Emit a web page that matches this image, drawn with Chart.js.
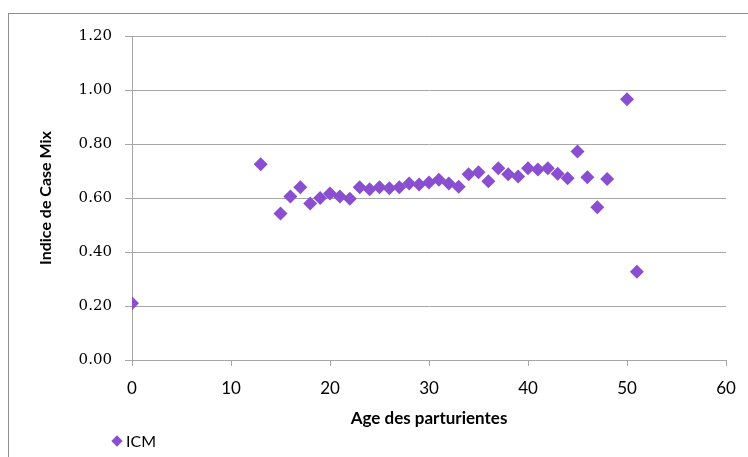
<!DOCTYPE html>
<html>
<head>
<meta charset="utf-8">
<script src="https://cdn.jsdelivr.net/npm/chart.js@4.4.0/dist/chart.umd.min.js"></script>
<style>
  html, body { margin: 0; padding: 0; background: #fff; overflow: hidden; }
  #wrap { position: relative; width: 748px; height: 457px; }
  #frame { position: absolute; left: 8px; top: 13px; width: 800px; height: 500px; border: 1px solid #8e8e8e; pointer-events: none; }
  #chart { position: absolute; left: 0; top: 0; }
  #legend { position: absolute; left: 112px; top: 431px; font-family: Lato, sans-serif; font-size: 16px; color: #000; display: flex; align-items: center; }
  #legend .mark { width: 8px; height: 8px; background: #8a4fd1; transform: rotate(45deg); margin-right: 5px; margin-left: 1px; }
</style>
</head>
<body>
<div id="wrap">
  <canvas id="chart" width="748" height="457"></canvas>
  <div id="frame"></div>
  <div id="legend"></div>
</div>
<script>
const SERIES_NAME = "ICM";
const ages = [0, 13, 15, 16, 17, 18, 19, 20, 21, 22, 23, 24, 25, 26, 27, 28, 29, 30, 31, 32, 33, 34, 35, 36, 37, 38, 39, 40, 41, 42, 43, 44, 45, 46, 47, 48, 50, 51];
const icmValues = [0.21, 0.725, 0.543, 0.606, 0.64, 0.58, 0.60, 0.617, 0.606, 0.597, 0.64, 0.632, 0.64, 0.636, 0.64, 0.654, 0.65, 0.657, 0.668, 0.654, 0.642, 0.688, 0.695, 0.662, 0.71, 0.688, 0.68, 0.71, 0.706, 0.71, 0.69, 0.673, 0.772, 0.677, 0.566, 0.67, 0.966, 0.327];

const X_TITLE = "Age des parturientes";
const Y_TITLE = "Indice de Case Mix";

const pointColor = "#8a4fd1";
const gridColor = "#a6a6a6";

const points = ages.map((a, i) => ({ x: a, y: icmValues[i] }));

new Chart(document.getElementById("chart"), {
  type: "scatter",
  data: {
    datasets: [{
      label: SERIES_NAME,
      data: points,
      backgroundColor: pointColor,
      borderColor: pointColor,
      borderWidth: 0,
      pointStyle: "rectRot",
      pointRadius: 7,
      pointHoverRadius: 7
    }]
  },
  options: {
    responsive: false,
    animation: false,
    events: [],
    layout: {
      padding: { left: 36, top: 36, right: 22, bottom: 28 }
    },
    plugins: {
      legend: { display: false },
      tooltip: { enabled: false }
    },
    scales: {
      x: {
        type: "linear",
        min: 0,
        max: 60,
        afterFit: s => { s.height = 69; },
        grid: { drawOnChartArea: false, drawTicks: true, tickLength: 6, color: gridColor },
        border: { color: gridColor, width: 1 },
        ticks: {
          stepSize: 10,
          padding: 12,
          color: "#000",
          font: { family: "Lato", size: 17 }
        },
        title: {
          display: true,
          text: X_TITLE,
          color: "#000",
          padding: 0,
          font: { family: "Lato", size: 17, weight: "bold" }
        }
      },
      y: {
        type: "linear",
        min: 0,
        max: 1.2,
        afterFit: s => { s.width = 96; },
        grid: { color: gridColor, tickLength: 7, lineWidth: 1 },
        border: { color: gridColor, width: 1 },
        ticks: {
          stepSize: 0.2,
          padding: 13,
          color: "#000",
          font: { family: "DejaVu Serif", size: 15 },
          callback: v => Number(v).toFixed(2)
        },
        title: {
          display: true,
          text: Y_TITLE,
          color: "#000",
          padding: 0,
          font: { family: "Lato", size: 16, weight: "bold" }
        }
      }
    }
  }
});

document.getElementById("legend").innerHTML =
  `<span class="mark"></span><span>${SERIES_NAME}</span>`;
</script>
</body>
</html>
